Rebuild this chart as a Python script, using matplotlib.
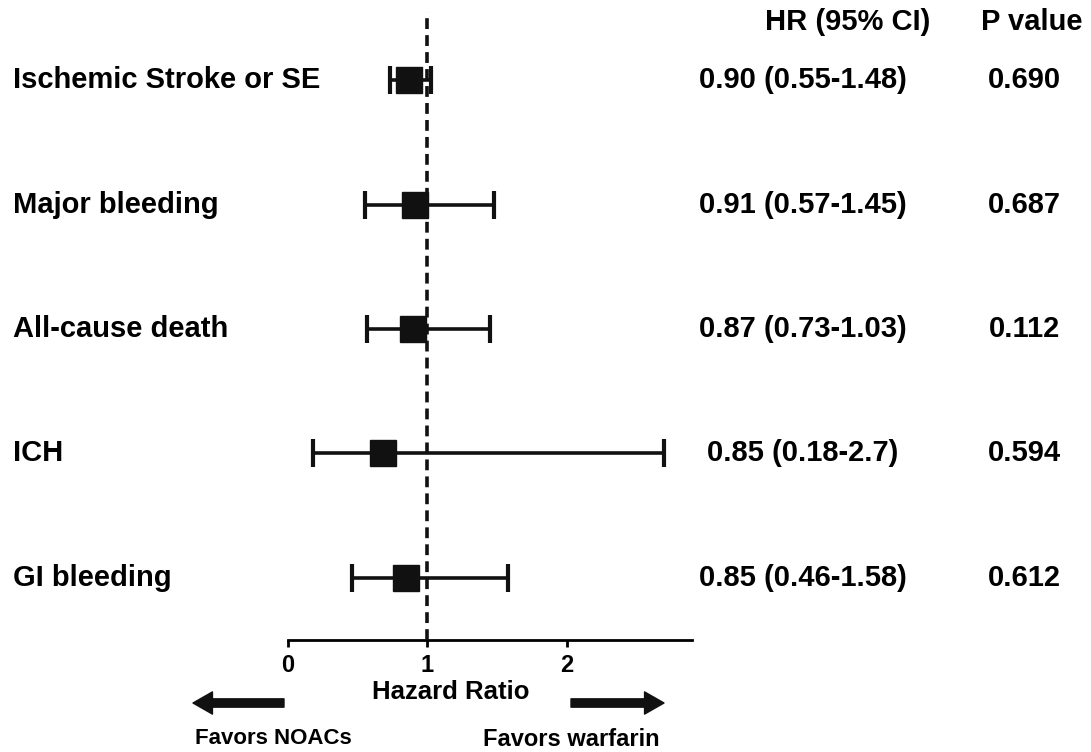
import matplotlib.pyplot as plt
from matplotlib.transforms import blended_transform_factory

plt.rcParams['font.family'] = ['Liberation Sans', 'DejaVu Sans']
plt.rcParams['font.weight'] = 'bold'

# outcomes, top to bottom
outcomes = [
    "Ischemic Stroke or SE",
    "Major bleeding",
    "All-cause death",
    "ICH",
    "GI bleeding",
]
# values as drawn in the plot
hr_point = [0.87, 0.91, 0.90, 0.68, 0.85]
ci_low = [0.73, 0.55, 0.57, 0.18, 0.46]
ci_high = [1.03, 1.48, 1.45, 2.70, 1.58]
# text columns
hr_text = [
    "0.90 (0.55-1.48)",
    "0.91 (0.57-1.45)",
    "0.87 (0.73-1.03)",
    "0.85 (0.18-2.7)",
    "0.85 (0.46-1.58)",
]
p_text = ["0.690", "0.687", "0.112", "0.594", "0.612"]
x_ticks = [0, 1, 2]

W, H = 1091, 752
fig = plt.figure(figsize=(W / 100, H / 100), dpi=100)
ax = fig.add_axes([288 / W, 1 - 640 / H, 404 / W, 628 / H])

n = len(outcomes)
ypos = [n - i for i in range(n)]

err_lo = [p - lo for p, lo in zip(hr_point, ci_low)]
err_hi = [hi - p for p, hi in zip(hr_point, ci_high)]
ax.errorbar(hr_point, ypos, xerr=[err_lo, err_hi], fmt='none',
            ecolor='#111111', elinewidth=2.6, capsize=10, capthick=3,
            zorder=2)
ax.plot(hr_point, ypos, 's', color='#111111', ms=19, zorder=3)
ax.axvline(1, color='#111111', lw=2.6, dashes=(3, 1.7), zorder=4)

ax.set_xlim(0, 2.9)
ax.set_ylim(0.5, 5.55)
ax.set_yticks([])
ax.set_xticks(x_ticks)
ax.set_xticklabels([str(t) for t in x_ticks], fontsize=17, fontweight='bold')
for s in ['left', 'top', 'right']:
    ax.spines[s].set_visible(False)
ax.spines['bottom'].set_linewidth(2)
ax.tick_params(axis='x', length=5, width=2, pad=5, direction='out')
ax.patch.set_alpha(0)

tr = blended_transform_factory(fig.transFigure, ax.transData)
for y, lab, hrt, pt in zip(ypos, outcomes, hr_text, p_text):
    fig.text(13 / W, y, lab, transform=tr, fontsize=21, fontweight='bold',
             ha='left', va='center')
    fig.text(803 / W, y, hrt, transform=tr, fontsize=21, fontweight='bold',
             ha='center', va='center')
    fig.text(1024 / W, y, pt, transform=tr, fontsize=21, fontweight='bold',
             ha='center', va='center')

fig.text(848 / W, 1 - 22 / H, "HR (95% CI)", fontsize=21, fontweight='bold',
         ha='center', va='center')
fig.text(1032 / W, 1 - 22 / H, "P value", fontsize=21, fontweight='bold',
         ha='center', va='center')

fig.text(451 / W, 1 - 692 / H, "Hazard Ratio", fontsize=18.5,
         fontweight='bold', ha='center', va='center')
fig.text(273 / W, 1 - 738 / H, "Favors NOACs", fontsize=16, fontweight='bold',
         ha='center', va='center')
fig.text(571 / W, 1 - 740 / H, "Favors warfarin", fontsize=17,
         fontweight='bold', ha='center', va='center')

arrow_style = "simple,head_width=1.6,head_length=1.4,tail_width=0.6"
ax.annotate('', xy=(193, H - 703), xytext=(284, H - 703),
            xycoords='figure pixels', textcoords='figure pixels',
            arrowprops=dict(arrowstyle=arrow_style, color='#111111',
                            mutation_scale=10, shrinkA=0, shrinkB=0),
            annotation_clip=False)
ax.annotate('', xy=(664, H - 703), xytext=(571, H - 703),
            xycoords='figure pixels', textcoords='figure pixels',
            arrowprops=dict(arrowstyle=arrow_style, color='#111111',
                            mutation_scale=10, shrinkA=0, shrinkB=0),
            annotation_clip=False)

fig.savefig("out.png", dpi=100)
